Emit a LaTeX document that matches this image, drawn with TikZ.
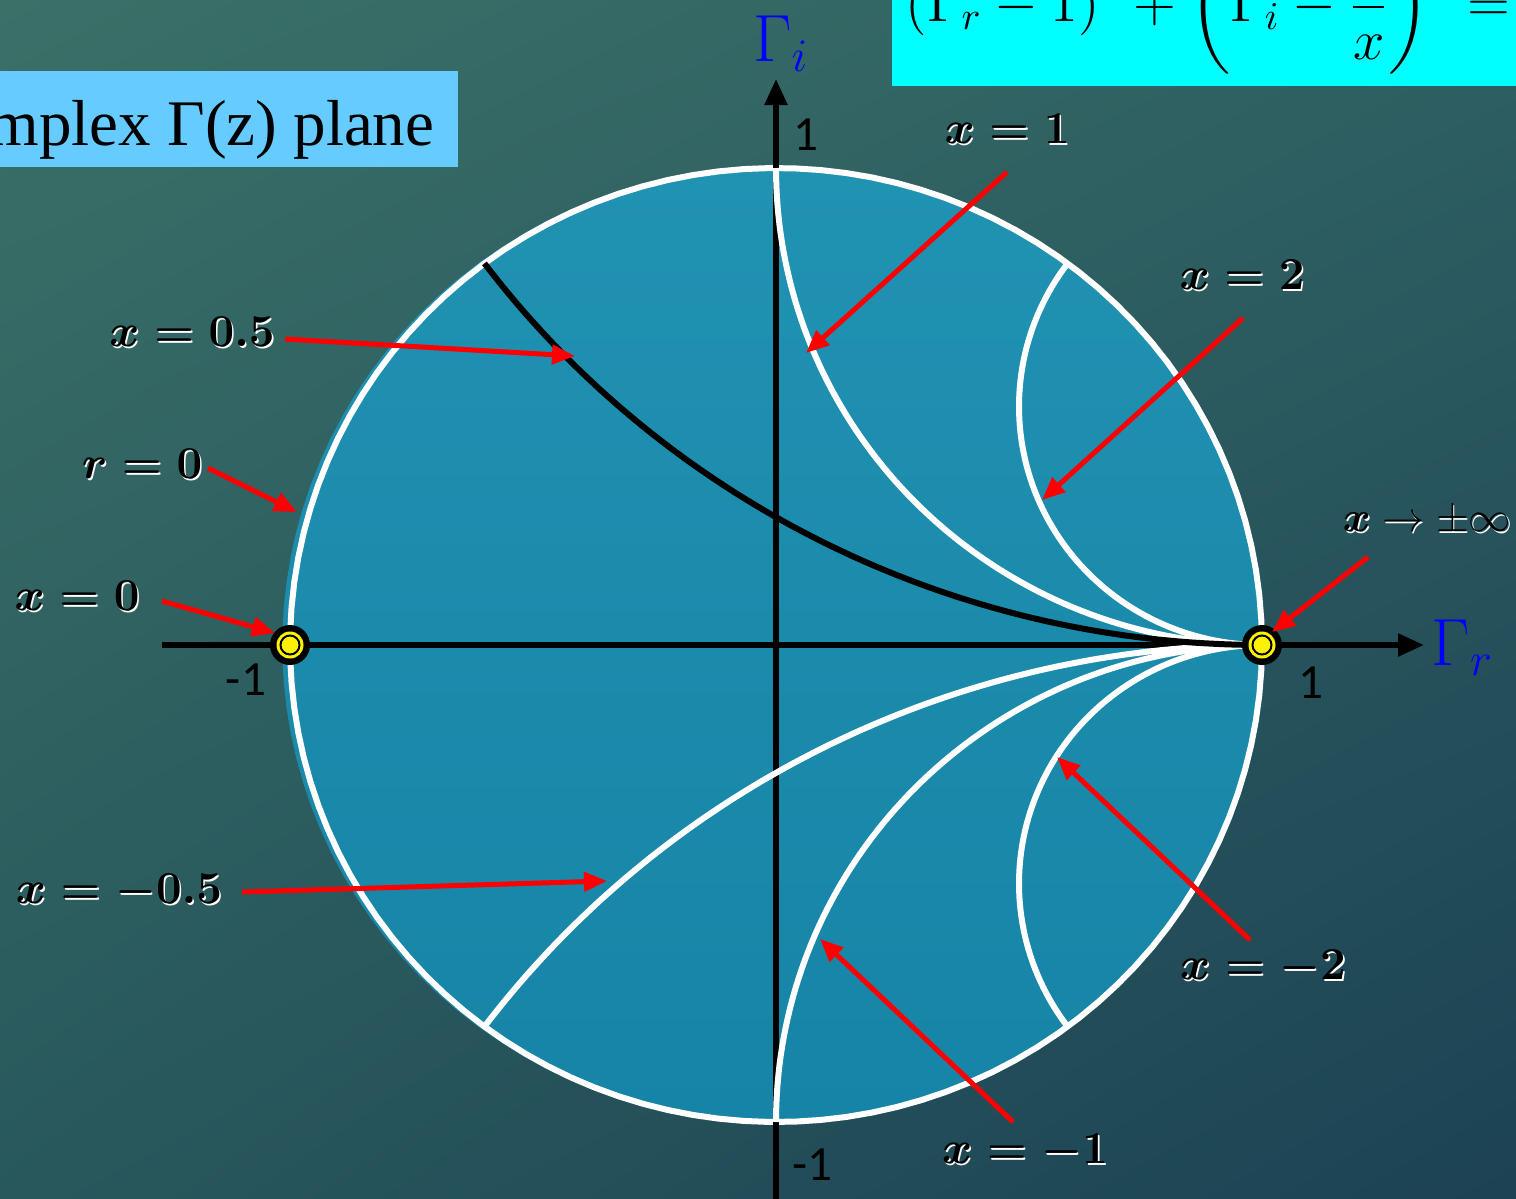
\RequirePackage{fix-cm}
\documentclass[tikz,border=0pt]{standalone}
\usepackage{amsmath,amssymb}
\usepackage{bm}
\usepackage{fontspec}
\newfontfamily\tickfont{Carlito}
\newfontfamily\titlefont{Liberation Serif}
\usetikzlibrary{arrows.meta,positioning,calc,shadings}
\definecolor{bgul}{RGB}{58,112,104}
\definecolor{bgur}{RGB}{46,96,98}
\definecolor{bgll}{RGB}{40,88,92}
\definecolor{bglr}{RGB}{28,66,84}
\definecolor{disktop}{RGB}{32,146,178}
\definecolor{diskbot}{RGB}{22,132,166}
\definecolor{titlebg}{RGB}{102,204,255}
\definecolor{eqbg}{RGB}{0,255,255}
\newcommand{\wsh}[1]{\makebox[0pt][l]{\hspace{0.45pt}\raisebox{-0.5pt}{\color{white}#1}}#1}

\begin{document}
\begin{tikzpicture}[x=0.1mm,y=-0.1mm,
    lab/.style={font=\fontsize{13}{15}\selectfont\boldmath,inner sep=0pt},
    tick/.style={font=\tickfont\fontsize{14}{16}\selectfont,inner sep=0pt},
    pointer/.style={red,line width=0.5mm,-{Triangle[length=2.3mm,width=1.9mm]}},
    axis/.style={black,line width=0.55mm,-{Triangle[length=2.6mm,width=2.2mm]}},
    rim/.style={white,line width=0.6mm},
    xarc/.style={white,line width=0.6mm},
    gam/.style={text=blue,font=\fontsize{19}{22}\selectfont,inner sep=2pt}]
  \useasboundingbox (0,0) rectangle (1516,1199);
  \clip (0,0) rectangle (1516,1199);
  \shade[upper left=bgul,upper right=bgur,lower left=bgll,lower right=bglr] (0,0) rectangle (1516,1199);

  % title and equation
  \fill[titlebg] (-10,71) rectangle (458,167);
  \node[anchor=base east,inner sep=0pt,font=\titlefont\fontsize{18.5}{22}\selectfont] (title) at (435,145) {Complex Γ(z) plane};
  \fill[eqbg] (892,-10) rectangle (1526,86);
  \node[anchor=base west,inner sep=0pt,font=\fontsize{16}{19}\selectfont] (eq) at (905,21)
    {$\displaystyle(\Gamma_r-1)^2+\left(\Gamma_i-\frac{1}{x}\right)^2=\frac{1}{x^2}$};

  % axis names
  \node[gam,anchor=west] (Gr) at (1424,648) {$\Gamma_r$};
  \node[gam,anchor=south] (Gi) at (781,79) {$\Gamma_i$};

  \begin{scope}[shift={(776,645)},x={(48.6mm,0)},y={(0,47.7mm)}]
    \shade[top color=disktop,bottom color=diskbot]
      plot[domain=0:360,samples=120] ({-0.008+1.008*cos(\x)},{sin(\x)}) -- cycle;
    \draw[rim] plot[domain=0:360,samples=120] ({cos(\x)},{sin(\x)}) -- cycle;
    \coordinate (Pl) at (-1,0);
    \coordinate (Pr) at (1,0);
    \coordinate (xa) at (-1.263,0);
    \coordinate (ya) at (0,-1.17);
    \draw[axis] (xa) -- (xa -| Gr.west);
    \draw[axis] (ya) -- (ya |- Gi.south);
    % reactance circles x = 1, 2, -1, -2, -0.5
    \foreach \cy/\rr/\ta/\tb in {1/1/180/270, 0.5/0.5/143.13/270, -1/1/90/180,
                                 -0.5/0.5/90/216.87, -2/2/90/143.13}
      \draw[xarc] plot[domain=\ta:\tb,samples=80] ({1+\rr*cos(\x)},{\cy+\rr*sin(\x)});
    % x = 0.5
    \draw[black,line width=0.6mm] plot[domain=216.87:270,samples=80] ({1+2*cos(\x)},{2+2*sin(\x)});
    \foreach \p in {Pl,Pr}{
      \fill[black] (\p) circle[radius=2mm];
      \fill[yellow] (\p) circle[radius=1.35mm];
      \draw[black,line width=0.2mm] (\p) circle[radius=0.95mm];
    }
  \end{scope}

  % tick values
  \node[tick] (tk1) at (806,135) {1};
  \node[tick] (tk2) at (246,680) {-1};
  \node[tick] (tk3) at (1311,683) {1};
  \node[tick] (tk4) at (812,1165) {-1};

  % labels
  \node[lab] (l1) at (1007,130) {\wsh{$x=1$}};
  \node[lab] (l2) at (1242,276) {\wsh{$x=2$}};
  \node[lab] (l05) at (192,333) {\wsh{$x=0.5$}};
  \node[lab] (lr0) at (142,465) {\wsh{$r=0$}};
  \node[lab] (lx0) at (77,597) {\wsh{$x=0$}};
  \node[lab,font=\fontsize{12}{14}\selectfont] (linf) at (1427,522) {\wsh{$\bm{x}\rightarrow\pm\infty$}};
  \node[lab] (lm05) at (119,893) {\wsh{$x=-0.5$}};
  \node[lab] (lm2) at (1263,969) {\wsh{$x=-2$}};
  \node[lab] (lm1) at (1025,1153) {\wsh{$x=-1$}};

  % pointers
  \coordinate (s1) at (1007,172);   \coordinate (t1) at (806,353);
  \coordinate (s2) at (1243,318);   \coordinate (t2) at (1042,500);
  \coordinate (s05) at (285,339);   \coordinate (t05) at (575,356);
  \coordinate (sr0) at (208,468);   \coordinate (tr0) at (297,512);
  \coordinate (sx0) at (162,601);   \coordinate (tx0) at (275,633);
  \coordinate (sinf) at (1368,557); \coordinate (tinf) at (1272,632);
  \coordinate (sm05) at (242,892);  \coordinate (tm05) at (607,881);
  \coordinate (sm2) at (1250,940);  \coordinate (tm2) at (1057,757);
  \coordinate (sm1) at (1013,1122); \coordinate (tm1) at (820,939);
  \draw[pointer] (s1) -- (t1);
  \draw[pointer] (s2) -- (t2);
  \draw[pointer] (s05) -- (t05);
  \draw[pointer] (sr0) -- (tr0);
  \draw[pointer] (sx0) -- (tx0);
  \draw[pointer] (sinf) -- (tinf);
  \draw[pointer] (sm05) -- (tm05);
  \draw[pointer] (sm2) -- (tm2);
  \draw[pointer] (sm1) -- (tm1);
\end{tikzpicture}
\end{document}
